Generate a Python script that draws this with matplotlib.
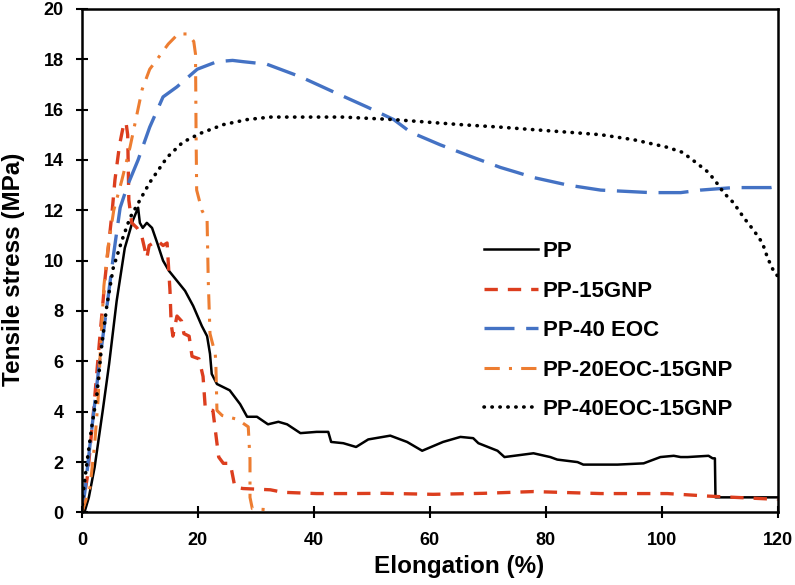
import matplotlib
matplotlib.use("Agg")
import matplotlib.pyplot as plt

plt.rcParams['font.family'] = ['Liberation Sans', 'DejaVu Sans']

# PP (solid black)
pp_x = [0, 0.5, 1.2, 2.2, 3.6, 4.7, 6.0, 7.4, 8.8, 9.7, 10.0, 10.5, 11.2, 12.1, 13.0, 14.0, 15.0,
        16.4, 17.8, 19.2, 20.7, 21.6, 22.1, 22.4, 23.3, 25.5, 27.3, 28.5, 30.2, 32.1, 33.9, 35.4,
        37.7, 40.5, 42.5, 43.0, 45.1, 47.3, 49.4, 53.2, 56.1, 58.7, 62.3, 65.3, 67.5, 68.4, 71.7,
        72.9, 77.9, 80.8, 82.0, 85.5, 86.5, 92.4, 96.9, 99.8, 102.1, 103.3, 104.5, 108.1, 108.8,
        109.2, 109.3, 120]
pp_y = [0, 0.05, 0.6, 1.8, 4.05, 5.9, 8.4, 10.5, 11.6, 12.1, 11.5, 11.3, 11.5, 11.3, 10.7, 10.0, 9.6,
        9.2, 8.8, 8.2, 7.4, 7.0, 6.3, 5.5, 5.1, 4.85, 4.3, 3.8, 3.8, 3.5, 3.6, 3.5,
        3.15, 3.2, 3.2, 2.8, 2.75, 2.6, 2.9, 3.05, 2.8, 2.45, 2.8, 3.0, 2.95, 2.75, 2.45,
        2.2, 2.35, 2.2, 2.1, 2.0, 1.9, 1.9, 1.95, 2.2, 2.25, 2.2, 2.2, 2.25, 2.15,
        2.15, 0.6, 0.6]

# PP-15GNP (red dashed)
gnp_x = [0, 1.0, 2.0, 3.0, 4.0, 5.2, 5.7, 6.5, 7.2, 7.6, 7.9, 8.1, 8.6, 9.5, 10.3, 11.2, 11.6,
         13.0, 14.0, 14.7, 15.2, 15.4, 15.7, 16.4, 17.2, 17.6, 18.5, 19.0, 20.2, 20.9, 21.3, 22.6,
         23.3, 23.6, 24.4, 25.6, 26.4, 27.8, 32.5, 34.7, 40.5, 46, 52, 60.6, 69.3, 77.9, 89.5,
         101, 108, 120]
gnp_y = [0, 1.5, 4.0, 6.7, 9.3, 11.9, 13.2, 14.6, 15.4, 15.5, 15.0, 12.4, 11.5, 11.3, 11.0, 10.1, 10.6,
         10.8, 10.6, 10.7, 8.8, 7.5, 7.0, 7.8, 7.6, 7.1, 7.0, 6.2, 6.1, 5.4, 4.1, 4.05,
         2.75, 2.2, 1.95, 1.95, 1.0, 0.95, 0.9, 0.8, 0.75, 0.75, 0.76, 0.72, 0.76, 0.83, 0.75,
         0.75, 0.65, 0.52]

# PP-40 EOC (blue long dash)
eoc_x = [0, 0.5, 1.5, 3.0, 4.5, 5.5, 6.6, 7.9, 9.7, 11.7, 14, 16.4, 19.9, 23.3, 26, 27.8, 31.9,
         37.7, 43.4, 49.2, 53.8, 56.7, 61.8, 67.5, 72.2, 75.1, 77.9, 83.8, 89.5, 98.1, 103.3,
         106.7, 112.4, 118.8, 120]
eoc_y = [0, 0.8, 2.9, 5.9, 8.5, 10.3, 12.1, 13.0, 14.0, 15.3, 16.5, 16.9, 17.6, 17.9, 17.95, 17.9, 17.8,
         17.3, 16.7, 16.1, 15.6, 15.1, 14.6, 14.1, 13.7, 13.5, 13.3, 13.0, 12.8, 12.7, 12.7,
         12.8, 12.9, 12.9, 12.95]

# PP-20EOC-15GNP (orange dash-dot)
e20_x = [0, 1.4, 2.2, 2.8, 3.2, 3.8, 4.5, 5.5, 6.9, 8.3, 10.4, 11.7, 13.0, 14.9, 16.6, 18.3, 19.3,
         19.6, 19.7, 19.8, 20.7, 21.6, 21.8, 22.1, 23.0, 23.1, 23.3, 24.2, 26.8, 28.7, 29.0, 29.0,
         29.4, 32.6]
e20_y = [0, 1.0, 2.7, 4.5, 6.5, 9.0, 10.5, 12.0, 13.2, 14.5, 16.8, 17.6, 18.0, 18.6, 19.0, 19.0, 18.7,
         18.2, 15.0, 12.8, 12.0, 11.6, 9.2, 7.1, 6.3, 6.0, 4.05, 3.85, 3.7, 3.4, 2.1, 0.6,
         0.15, 0.1]

# PP-40EOC-15GNP (black dotted)
e40_x = [0, 0.2, 1.0, 1.7, 2.6, 3.4, 4.3, 5.4, 6.9, 8.3, 10.0, 11.7, 14.7, 17.4, 20.4, 24.4, 28.5,
         32.5, 36.5, 45, 53.8, 65.3, 72.2, 77.9, 83.8, 89.5, 95.2, 101, 103.6, 105.9, 108.1,
         109.8, 110.7, 112.4, 114.2, 115.9, 117.4, 118.3, 119.5, 120]
e40_y = [0, 0.75, 2.2, 3.4, 4.7, 6.6, 8.2, 9.7, 10.8, 11.7, 12.4, 13.1, 14.1, 14.7, 15.05, 15.4, 15.6,
         15.7, 15.7, 15.7, 15.6, 15.4, 15.3, 15.2, 15.1, 15.0, 14.8, 14.5, 14.3, 13.9, 13.5,
         13.0, 12.7, 12.3, 11.7, 11.2, 10.7, 10.1, 9.5, 9.4]

fig = plt.figure(figsize=(7.95, 5.85), dpi=100)
ax = fig.add_axes([0.103, 0.124, 0.875, 0.861])

ax.plot(pp_x, pp_y, color='black', lw=1.8, label='PP')
ax.plot(gnp_x, gnp_y, color='#DC3E1E', lw=2.4, linestyle=(0, (4, 3)), label='PP-15GNP')
ax.plot(eoc_x, eoc_y, color='#4472C4', lw=2.4, linestyle=(0, (9, 3.5)), label='PP-40 EOC')
ax.plot(e20_x, e20_y, color='#ED7D31', lw=2.2, linestyle=(0, (5, 3, 1, 3)), label='PP-20EOC-15GNP')
ax.plot(e40_x, e40_y, color='black', lw=2.6, linestyle=(0, (0.1, 2.1)),
        dash_capstyle='round', label='PP-40EOC-15GNP')

ax.set_xlim(0, 120)
ax.set_ylim(0, 20)
ax.set_xticks(range(0, 121, 20))
ax.set_yticks(range(0, 21, 2))
for s in ax.spines.values():
    s.set_linewidth(1.8)
ax.tick_params(direction='inout', length=8, width=1.5)
ax.tick_params(axis='x', pad=10)
ax.tick_params(axis='y', pad=9)
for lab in ax.get_xticklabels() + ax.get_yticklabels():
    lab.set_fontweight('bold')
    lab.set_fontsize(13)

ax.set_xlabel('Elongation (%)', fontsize=17.5, fontweight='bold')
ax.set_ylabel('Tensile stress (MPa)', fontsize=17.5, fontweight='bold')
ax.xaxis.set_label_coords(0.543, -0.085)
ax.yaxis.set_label_coords(-0.082, 0.482)

leg = ax.legend(loc='center left', bbox_to_anchor=(0.550, 0.361), frameon=False,
                prop={'weight': 'bold', 'size': 16}, handlelength=2.4,
                handletextpad=0.22, labelspacing=0.83)

fig.savefig('out.png', dpi=100)
